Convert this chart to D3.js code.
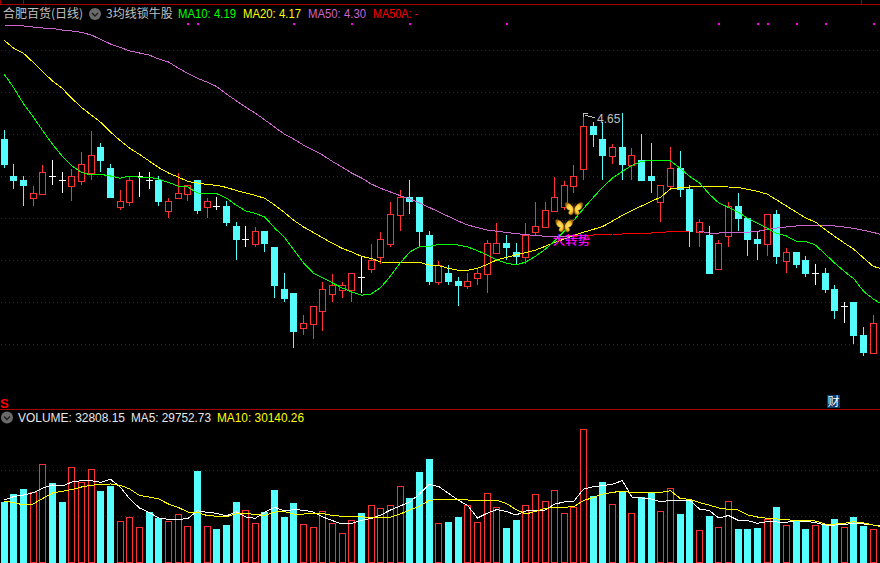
<!DOCTYPE html>
<html><head><meta charset="utf-8">
<script src="https://cdn.jsdelivr.net/npm/d3@7/dist/d3.min.js"></script>
<style>html,body{margin:0;padding:0;background:#000;overflow:hidden}svg{display:block}</style>
</head><body><svg id="c" width="880" height="563"></svg>
<script>
const open=[4.52,4.335,4.315,4.227,4.247,4.334,4.314,4.287,4.31,4.35,
4.48,4.375,4.18,4.205,4.334,4.314,4.315,4.16,4.227,4.247,
4.315,4.18,4.184,4.185,4.085,4.02,3.997,4.06,3.98,3.77,
3.75,3.577,3.597,3.662,3.747,3.767,3.767,3.829,3.872,3.932,
3.997,4.142,4.23,4.23,4.04,3.807,3.85,3.81,3.787,3.827,
3.847,3.952,4.0,3.955,3.932,4.057,4.08,4.162,4.182,4.287,
4.372,4.585,4.52,4.437,4.48,4.392,4.415,4.335,4.207,4.287,
4.375,4.27,4.054,4.04,3.872,4.037,4.185,4.125,4.02,3.997,
4.145,3.912,3.955,3.915,3.85,3.85,3.77,3.685,3.705,3.54,3.452];
const close=[4.395,4.315,4.29,4.249,4.355,4.334,4.314,4.335,4.395,4.44,
4.415,4.23,4.209,4.315,4.334,4.314,4.21,4.209,4.249,4.29,
4.165,4.209,4.184,4.105,4.02,4.02,4.06,4.0,3.79,3.725,
3.56,3.599,3.685,3.769,3.789,3.789,3.849,3.829,3.914,4.019,
4.144,4.229,4.21,4.06,3.81,3.89,3.81,3.79,3.809,3.849,
3.999,3.999,3.98,3.935,4.039,4.084,4.164,4.229,4.289,4.334,
4.584,4.545,4.44,4.479,4.395,4.439,4.315,4.315,4.289,4.374,
4.27,4.06,4.104,3.85,3.999,4.184,4.125,4.02,4.0,4.144,
3.935,3.954,3.895,3.85,3.85,3.77,3.665,3.685,3.54,3.455,3.599];
const high=[4.565,4.395,4.335,4.285,4.39,4.415,4.355,4.37,4.455,4.56,
4.5,4.395,4.265,4.335,4.355,4.355,4.335,4.225,4.35,4.29,
4.315,4.225,4.23,4.21,4.105,4.085,4.08,4.06,3.98,3.85,
3.75,3.64,3.685,3.805,3.845,3.805,3.85,3.935,3.995,4.055,
4.205,4.265,4.315,4.23,4.06,3.91,3.89,3.83,3.85,3.87,
4.015,4.1,4.04,4.0,4.1,4.205,4.205,4.33,4.31,4.39,
4.65,4.605,4.605,4.495,4.65,4.475,4.545,4.5,4.29,4.48,
4.46,4.29,4.12,4.085,4.015,4.205,4.25,4.125,4.055,4.145,
4.165,3.975,3.955,3.935,3.895,3.875,3.79,3.705,3.705,3.58,3.64];
const low=[4.375,4.27,4.185,4.185,4.245,4.29,4.25,4.21,4.29,4.315,
4.355,4.23,4.165,4.185,4.23,4.27,4.185,4.125,4.225,4.21,
4.145,4.125,4.165,4.085,3.915,3.98,3.98,3.955,3.725,3.705,
3.475,3.54,3.52,3.56,3.705,3.725,3.705,3.75,3.85,3.895,
3.98,4.06,4.145,3.98,3.79,3.79,3.79,3.685,3.77,3.79,
3.75,3.95,3.915,3.895,3.895,4.04,4.08,4.16,4.165,4.25,
4.315,4.48,4.315,4.395,4.315,4.315,4.315,4.25,4.105,4.27,
4.23,3.98,3.98,3.85,3.87,3.98,4.06,3.935,3.915,3.935,
3.895,3.85,3.875,3.83,3.79,3.75,3.62,3.6,3.495,3.435,3.45];
const ma10=[4.843,4.775,4.695,4.63,4.56,4.493,4.435,4.385,4.353,4.34,
4.343,4.335,4.324,4.335,4.329,4.329,4.319,4.303,4.285,4.28,
4.25,4.249,4.247,4.225,4.19,4.16,4.148,4.129,4.075,4.028,
3.965,3.9,3.85,3.825,3.8,3.775,3.755,3.739,3.745,3.778,
3.835,3.9,3.955,3.982,3.983,3.993,3.994,3.99,3.98,3.962,
3.94,3.915,3.9,3.89,3.905,3.933,3.968,4.01,4.06,4.115,
4.173,4.228,4.28,4.325,4.358,4.388,4.408,4.413,4.413,4.41,
4.373,4.332,4.3,4.245,4.2,4.178,4.154,4.123,4.098,4.074,
4.048,4.035,4.01,4.008,3.99,3.945,3.9,3.858,3.82,3.758,3.72,3.69];
const ma20=[5.013,4.973,4.948,4.903,4.855,4.81,4.773,4.723,4.678,4.64,
4.603,4.555,4.512,4.474,4.443,4.41,4.377,4.35,4.33,4.308,
4.3,4.293,4.288,4.278,4.263,4.25,4.238,4.223,4.19,4.153,
4.113,4.08,4.053,4.025,3.998,3.973,3.955,3.933,3.923,3.905,
3.904,3.904,3.904,3.903,3.89,3.887,3.873,3.864,3.864,3.873,
3.893,3.915,3.928,3.94,3.952,3.964,3.983,4.003,4.02,4.038,
4.054,4.068,4.083,4.11,4.138,4.163,4.185,4.208,4.23,4.27,
4.277,4.28,4.282,4.282,4.282,4.28,4.278,4.268,4.258,4.245,
4.215,4.185,4.155,4.125,4.105,4.068,4.033,4.0,3.968,3.925,3.883,3.87];
const ma50=[5.09,5.089,5.085,5.08,5.075,5.073,5.065,5.06,5.053,5.04,
5.018,4.995,4.978,4.96,4.95,4.94,4.92,4.905,4.875,4.848,
4.823,4.805,4.782,4.745,4.712,4.679,4.649,4.615,4.579,4.545,
4.519,4.489,4.465,4.439,4.407,4.379,4.349,4.325,4.295,4.273,
4.255,4.237,4.22,4.2,4.178,4.155,4.133,4.11,4.09,4.077,
4.065,4.059,4.053,4.047,4.042,4.037,4.034,4.033,4.033,4.034,
4.037,4.04,4.043,4.045,4.045,4.048,4.05,4.05,4.051,4.058,
4.059,4.06,4.06,4.05,4.05,4.052,4.053,4.054,4.058,4.067,
4.075,4.08,4.085,4.087,4.088,4.088,4.085,4.08,4.073,4.063,4.053,4.04];
const ma50aRange=[59,72];
const volume=[60000,68000,73000,69700,97700,79000,60000,94700,79700,92700,
71000,76000,40700,44700,34700,50000,44000,40700,47700,35700,
91000,35700,33000,37000,60000,51700,38700,50000,72000,45000,
59000,37700,34700,50700,38700,28700,41700,49000,56700,53700,
56700,75700,64000,90000,103000,38700,40000,45000,56700,39700,
68700,54700,34000,42000,56700,67700,60700,71700,48700,54700,
132700,65700,80000,57700,70000,48700,64700,69000,50700,73700,
48000,62000,31700,46000,34700,60700,33000,33000,34000,43300,
55000,36700,40700,33000,36700,37000,43000,34700,45000,36000,32808];
const volMa5=[62000,65500,67000,69300,74000,77000,76000,80000,81300,81300,
79700,82700,75000,63000,54000,49500,44000,42700,42700,43300,
51300,49700,48700,46000,50300,45000,43700,50000,54700,51000,
52500,51700,50000,45000,41300,38000,38700,41700,43500,47000,
52000,56000,60300,68000,77500,75500,68700,62000,56500,44000,
48700,52500,50500,47000,51000,51700,52000,58000,60000,61000,
73000,75300,76500,77700,81500,65000,64000,63000,60300,61700,
61700,61700,53000,51500,44000,46500,41700,41300,38700,40300,
40000,39700,41300,40500,39500,37000,37000,37500,38700,38000,37000,37000];
const volMa10=[61000,59300,57000,58000,63700,69000,70700,72500,75000,76700,
77700,78000,76700,73000,66500,65000,63000,58000,54700,50000,
49500,46500,45800,45300,48000,48700,47500,46700,50000,50300,
48000,48000,48700,48300,46500,45700,45500,45300,44000,44300,
44700,48000,52000,56000,61500,62700,62700,62700,62000,61300,
61500,61700,58500,52500,48000,50500,53500,54700,54700,55500,
61500,64500,68000,69700,70700,69500,69300,69500,69700,71300,
63500,62700,59500,57000,54000,52700,52000,47000,45000,43700,
43000,42500,41200,41500,41000,38000,38000,38800,40300,39000,37000,35000];
const priceGrid=[4.9635,4.7535,4.5435,4.3335,4.1235,3.9135,3.7035,3.4935];
const volGrid=[91700,45700];
const signalIdx=[19,20,30,36,42,52,74,78,79,82,85,90];
const butterflyIdx=[58,59];
const titleText="合肥百货(日线)", formulaText="3均线锁牛股", trendText="大转势", reportMark="财", sMark="S";
const maLabels=["MA10: 4.19","MA20: 4.17","MA50: 4.30","MA50A: -"];
const volLabels=["VOLUME: 32808.15","MA5: 29752.73","MA10: 30140.26"];

const W=880,H=563;
const n=open.length;
const x=d3.scaleLinear().domain([0,n-1]).range([4.3,873.3]);
const col=i=>Math.floor(x(i));
const y=d3.scaleLinear().domain([5.215,0]).range([0,1043]);
const yv=d3.scaleLinear().domain([0,133000]).range([562,429]);
const ry=v=>Math.round(y(v));
const RED="#ff3232",CYAN="#54fcfc",GRID="#8c0000",FRAME="#a80000";
const svg=d3.select("#c").attr("viewBox",`0 0 ${W} ${H}`);
svg.append("rect").attr("width",W).attr("height",H).attr("fill","#000");
const crisp=svg.append("g").attr("shape-rendering","crispEdges");

// frame
const frame=crisp.append("g").attr("stroke",FRAME).attr("stroke-width",1);
frame.append("line").attr("x1",0).attr("x2",W).attr("y1",4.5).attr("y2",4.5);
[0.5,23.5,861.5].forEach(v=>frame.append("line").attr("x1",v).attr("x2",v).attr("y1",0).attr("y2",4));
frame.append("line").attr("x1",0).attr("x2",W).attr("y1",409.5).attr("y2",409.5);

// grid
const gridG=crisp.append("g").attr("stroke",GRID).attr("stroke-dasharray","1 3");
gridG.selectAll(".p").data(priceGrid).join("line").attr("class","p").attr("x1",1).attr("x2",W)
 .attr("y1",d=>Math.floor(y(d))+.5).attr("y2",d=>Math.floor(y(d))+.5);
gridG.selectAll(".v").data(volGrid).join("line").attr("class","v").attr("x1",1).attr("x2",W)
 .attr("y1",d=>Math.floor(yv(d))+.5).attr("y2",d=>Math.floor(yv(d))+.5);

// candles
const idx=d3.range(n);
const kind=i=>close[i]>open[i]?"up":close[i]<open[i]?"down":"doji";
const kcol={up:RED,down:CYAN,doji:"#ffffff"};
const cg=crisp.append("g");
cg.selectAll(".wick").data(idx).join("rect").attr("class","wick")
 .attr("x",col).attr("width",1).attr("y",i=>ry(high[i])).attr("height",i=>Math.max(1,ry(low[i])-ry(high[i])))
 .attr("fill",i=>kcol[kind(i)]);
cg.selectAll(".body").data(idx).join("rect").attr("class","body")
 .each(function(i){
  const s=d3.select(this),k=kind(i),t=ry(Math.max(open[i],close[i])),b=ry(Math.min(open[i],close[i]));
  if(k==="up") s.attr("x",col(i)-3+.5).attr("y",t+.5).attr("width",6).attr("height",Math.max(1,b-t)).attr("fill","#000").attr("stroke",RED);
  else if(k==="down") s.attr("x",col(i)-3).attr("y",t).attr("width",7).attr("height",Math.max(1,b-t+1)).attr("fill",CYAN);
  else s.attr("x",col(i)-3).attr("y",t).attr("width",7).attr("height",1).attr("fill","#fff");
 });

// MA lines
const lineOf=arr=>d3.line().x((d,i)=>x(i)).y(d=>y(d))(arr);
const addLine=(g,d,c)=>g.append("path").attr("d",d).attr("fill","none").attr("stroke",c).attr("stroke-width",1);
const lg=crisp.append("g");
addLine(lg,lineOf(ma50),"#cc66cc");
addLine(lg,d3.line().x(i=>x(i)).y(i=>y(ma50[i]))(d3.range(ma50aRange[0],ma50aRange[1]+1)),"#ff0000");
addLine(lg,lineOf(ma20),"#ffff00");
addLine(lg,lineOf(ma10),"#00ff00");

// signal dots
crisp.append("g").selectAll("rect").data(signalIdx).join("rect")
 .attr("x",col).attr("y",23).attr("width",2).attr("height",2).attr("fill","#ff00ff");

// volume
const vg=crisp.append("g");
const volUp=i=>{const k=kind(i);return k==="up"||(k==="doji"&&close[i]>=close[i-1]);};
vg.selectAll("rect").data(idx).join("rect").each(function(i){
 const s=d3.select(this),t=Math.round(yv(volume[i])),b=Math.round(yv(0));
 if(volUp(i)) s.attr("x",col(i)-3+.5).attr("y",t+.5).attr("width",6).attr("height",b-t).attr("fill","#000").attr("stroke",RED);
 else s.attr("x",col(i)-3).attr("y",t).attr("width",7).attr("height",b-t+1).attr("fill","#55ffff");
});
const vline=arr=>d3.line().x((d,i)=>x(i)).y(d=>yv(d))(arr);
addLine(crisp,vline(volMa5),"#ffffff");
addLine(crisp,vline(volMa10),"#ffff00");

// peak label
const peakI=high.indexOf(d3.max(high)),px=col(peakI),py=ry(high[peakI]);
crisp.append("path").attr("d",`M${px+.5},${py+4}V${py+.5}H${px+5}M${px+2},${py+2}L${px+12},${py+5}`)
 .attr("fill","none").attr("stroke","#c0c0c0");
const LAT="'Liberation Sans',Arial,sans-serif",CJK="'Noto Sans CJK SC','Liberation Sans',sans-serif";
svg.append("text").attr("x",px+14).attr("y",py+10).attr("fill","#c0c0c0").attr("font-family",LAT).attr("font-size",12).text(d3.format(".2f")(high[peakI]));

// butterflies
const defs=svg.append("defs");
const grad=defs.append("radialGradient").attr("id","bf");
grad.append("stop").attr("offset","0%").attr("stop-color","#ffe870");
grad.append("stop").attr("offset","70%").attr("stop-color","#fcc428");
grad.append("stop").attr("offset","100%").attr("stop-color","#a87014");
const wing="M0,0C-2,-4 -5,-7 -8.5,-6C-9,-2 -7,1 -4,1.5C-6,3 -6,5.5 -3,6C-1,6 0,3 0,1Z";
const bg=svg.append("g").selectAll("g").data(butterflyIdx).join("g")
 .attr("transform",i=>`translate(${x(i)},${y(low[i])+16})`);
bg.append("path").attr("d",wing).attr("fill","url(#bf)").attr("stroke","#8a5c12").attr("stroke-width",.5);
bg.append("path").attr("d",wing).attr("transform","scale(-1,1)").attr("fill","url(#bf)").attr("stroke","#8a5c12").attr("stroke-width",.5);
bg.append("path").attr("d","M0,4V-3M0,-2L-2,-6M0,-2L2,-6").attr("stroke","#5a3808").attr("stroke-width",.7).attr("fill","none");

// trend text
svg.append("text").attr("x",x(57)-2).attr("y",245).attr("fill","#ff00ff").attr("font-family",CJK).attr("font-size",12.5).attr("font-weight",500).text(trendText);

// header
const icon=(cx,cy)=>{
 svg.append("circle").attr("cx",cx).attr("cy",cy).attr("r",6).attr("fill","#6a6a6a");
 svg.append("path").attr("d",`M${cx-3},${cy-1}L${cx},${cy+2}L${cx+3},${cy-1}`).attr("fill","none").attr("stroke","#1c1c1c").attr("stroke-width",1.4);
};
const txt=(s,px,py,c,f,fs,len)=>{const t=svg.append("text").attr("x",px).attr("y",py).attr("fill",c).attr("font-family",f).attr("font-size",fs).text(s);
 if(len)t.attr("textLength",len).attr("lengthAdjust","spacingAndGlyphs");return t;};
txt(titleText,3,18,"#c0c0c0",CJK,12);
icon(95,14);
txt(formulaText,106,18,"#c0c0c0",CJK,12);
txt(maLabels[0],178,18,"#00ff00",LAT,12,58);
txt(maLabels[1],243,18,"#ffff00",LAT,12,58);
txt(maLabels[2],308,18,"#cc66cc",LAT,12,58);
txt(maLabels[3],373,18,"#ff0000",LAT,12,45);
icon(7,417.5);
txt(volLabels[0],18,422,"#e8e8e8",LAT,12,107);
txt(volLabels[1],131,422,"#e8e8e8",LAT,12,80);
txt(volLabels[2],217,422,"#ffff00",LAT,12,87);

// S and report marks
txt(sMark,0,408,"#ff0000",LAT,13).attr("font-weight","bold");
svg.append("rect").attr("x",827).attr("y",395).attr("width",13).attr("height",13).attr("fill","#0a3a6e");
txt(reportMark,827.5,406,"#ffffff",CJK,12);
</script></body></html>
